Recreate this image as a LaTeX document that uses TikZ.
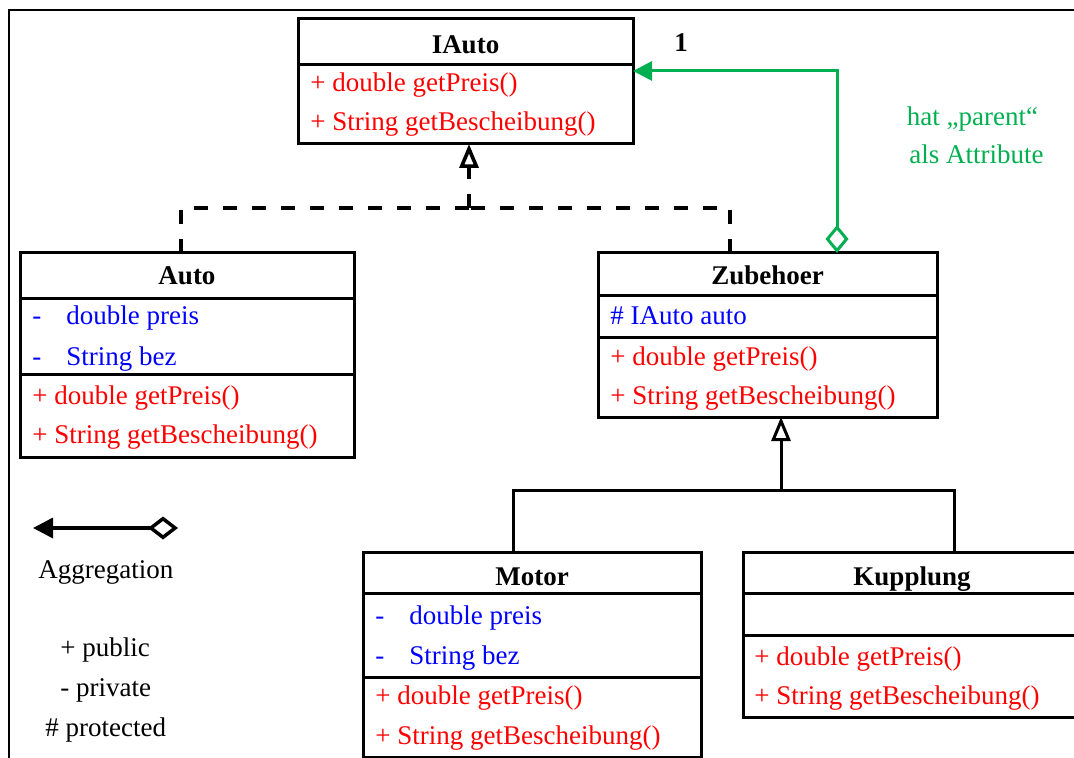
\documentclass[tikz,border=0pt]{standalone}
\usepackage{fontspec}
\setmainfont{Liberation Serif}
\usetikzlibrary{arrows.meta}
\definecolor{aggGreen}{RGB}{0,176,80}

\begin{document}
\begin{tikzpicture}[x=0.5pt,y=-0.5pt,
        font=\fontsize{13.5pt}{16pt}\selectfont,
        classbox/.style={draw, line width=1.5pt, anchor=north west, inner sep=0pt, outer sep=0pt},
        sepline/.style={line width=1.5pt},
        head/.style={font=\fontsize{13.5pt}{16pt}\selectfont\bfseries, anchor=base, inner sep=0pt},
        attr/.style={text=blue, anchor=base west, inner sep=0pt},
        meth/.style={text=red, anchor=base west, inner sep=0pt},
        note/.style={anchor=base west, inner sep=0pt},
        dashline/.style={line width=1.8pt, dash pattern=on 7pt off 7.5pt},
        inhline/.style={line width=1.5pt},
        aggline/.style={line width=1.5pt, aggGreen}]

        % Page size and frame
        \useasboundingbox (0,0) rectangle (1074,758);
        \clip (0,0) rectangle (1074,758);
        \draw[line width=1pt] (9,800) -- (9,10) -- (1100,10);

        % Class IAuto
        \node[classbox, minimum width=167.5pt, minimum height=62.5pt] (IAuto) at (298,19) {};
        \draw[sepline] (298,65) -- (633,65);
        \node[head] (IAutoName) at (465.5,54) {IAuto};
        \node[meth] (IAutoM1) at (310,92) {+ double getPreis()};
        \node[meth] (IAutoM2) at (310,131) {+ String getBescheibung()};

        % Class Auto
        \node[classbox, minimum width=167pt, minimum height=102pt] (Auto) at (20,253) {};
        \draw[sepline] (20,299) -- (354,299);
        \draw[sepline] (20,375) -- (354,375);
        \node[head] (AutoName) at (187,285) {Auto};
        \node[attr] (AutoA1) at (32,325) {\makebox[17pt][l]{-}double preis};
        \node[attr] (AutoA2) at (32,365) {\makebox[17pt][l]{-}String bez};
        \node[meth] (AutoM1) at (32,404) {+ double getPreis()};
        \node[meth] (AutoM2) at (32,444) {+ String getBescheibung()};

        % Class Zubehoer
        \node[classbox, minimum width=169.5pt, minimum height=82pt] (Zubehoer) at (598,253) {};
        \draw[sepline] (598,296) -- (937,296);
        \draw[sepline] (598,338) -- (937,338);
        \node[head] (ZubehoerName) at (767.5,285) {Zubehoer};
        \node[attr] (ZubehoerA1) at (610,325) {\# IAuto auto};
        \node[meth] (ZubehoerM1) at (610,365) {+ double getPreis()};
        \node[meth] (ZubehoerM2) at (610,404) {+ String getBescheibung()};

        % Class Motor
        \node[classbox, minimum width=169pt, minimum height=102.5pt] (Motor) at (363,552) {};
        \draw[sepline] (363,593) -- (701,593);
        \draw[sepline] (363,677) -- (701,677);
        \node[head] (MotorName) at (532,585) {Motor};
        \node[attr] (MotorA1) at (375,624) {\makebox[17pt][l]{-}double preis};
        \node[attr] (MotorA2) at (375,664) {\makebox[17pt][l]{-}String bez};
        \node[meth] (MotorM1) at (375,704) {+ double getPreis()};
        \node[meth] (MotorM2) at (375,744) {+ String getBescheibung()};

        % Class Kupplung
        \node[classbox, minimum width=169pt, minimum height=82.5pt] (Kupplung) at (743,552) {};
        \draw[sepline] (743,593) -- (1081,593);
        \draw[sepline] (743,635) -- (1081,635);
        \node[head] (KupplungName) at (912,585) {Kupplung};
        \node[meth] (KupplungM1) at (754,665) {+ double getPreis()};
        \node[meth] (KupplungM2) at (754,704) {+ String getBescheibung()};

        % Realization of IAuto (dashed)
        \coordinate (realY) at (469,208);
        \draw[dashline] ([xshift=-3pt]Auto.north) |- (realY);
        \draw[dashline] ([xshift=-18.75pt]Zubehoer.north) |- (realY);
        \draw[dashline, -{Triangle[open, length=12pt, width=9.5pt]}] (realY) -- (realY |- IAuto.south);

        % Inheritance from Zubehoer
        \coordinate (inhY) at (781,490);
        \draw[inhline, -{Triangle[open, length=12pt, width=9.5pt]}] (inhY) -- (inhY |- Zubehoer.south);
        \draw[inhline] ([xshift=-9.5pt]Motor.north) |- (inhY) -| ([xshift=21pt]Kupplung.north);

        % Aggregation Zubehoer -> IAuto
        \draw[aggline, {Diamond[open, length=14pt, width=11.5pt]}-{Triangle[length=9.5pt, width=9.5pt]}]
            ([xshift=34.75pt]Zubehoer.north) |- ([yshift=5.25pt]IAuto.east);
        \node[note, font=\fontsize{13.5pt}{16pt}\selectfont\bfseries] (mult) at (674,52) {1};
        \node[note, text=aggGreen, anchor=base] (aggNote1) at (972.5,126) {hat „parent“};
        \node[note, text=aggGreen, anchor=base] (aggNote2) at (976.5,164) {als Attribute};

        % Legend
        \coordinate (legL) at (33,528);
        \coordinate (legR) at (178,528);
        \draw[line width=1.75pt, {Triangle[length=10pt, width=10pt]}-{Diamond[open, length=15pt, width=11.5pt]}] (legL) -- (legR);
        \node[note] (legAgg) at (38,578) {Aggregation};
        \node[note] (legPub) at (60,656) {+ public};
        \node[note] (legPriv) at (60,696) {- private};
        \node[note] (legProt) at (45,736) {\# protected};
    \end{tikzpicture}
\end{document}
